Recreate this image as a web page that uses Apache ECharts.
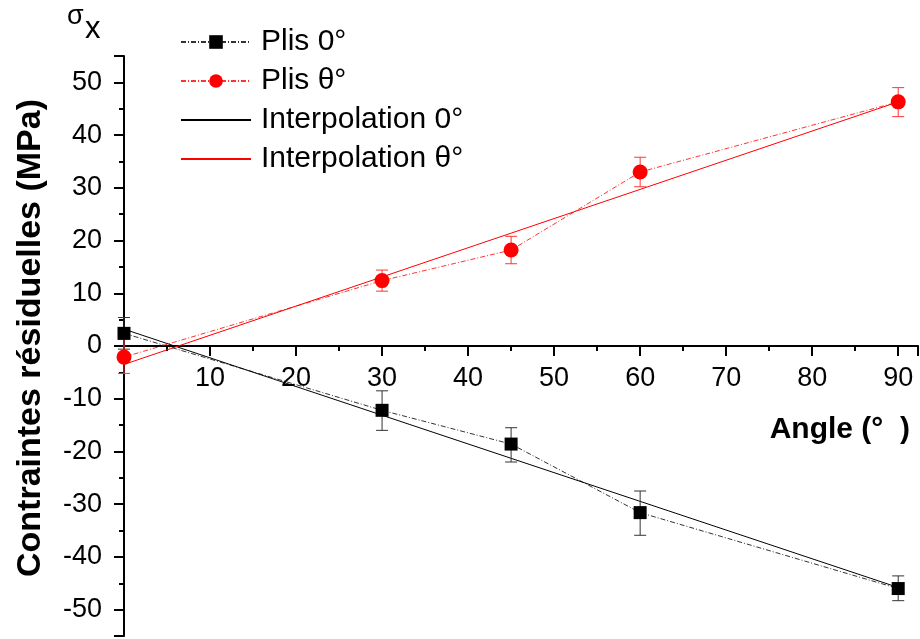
<!DOCTYPE html>
<html>
<head>
<meta charset="utf-8">
<script src="https://cdn.jsdelivr.net/npm/echarts@6/dist/echarts.min.js"></script>
<style>html,body{margin:0;padding:0;background:#fff}#c{width:920px;height:639px}</style>
</head>
<body>
<div id="c"></div>
<script>
// Data
const angles = [0, 30, 45, 60, 90];
const plis0 = [2.4, -12.2, -18.6, -31.6, -46.0];
const plis0Low = [-0.6, -16.0, -22.0, -35.9, -48.3];
const plis0High = [5.4, -8.5, -15.5, -27.5, -43.6];
const plisT = [-2.1, 12.4, 18.2, 33.0, 46.3];
const plisTLow = [-5.2, 10.4, 15.6, 30.2, 43.5];
const plisTHigh = [1.3, 14.4, 20.8, 35.8, 49.0];
const interpX = [0, 90];
const interp0 = [3.2, -45.8];
const interpT = [-3.5, 46.3];
const xTicks = [10, 20, 30, 40, 50, 60, 70, 80, 90];

const FONT = 'Liberation Sans, Arial, sans-serif';
const pairs = (xs, ys) => xs.map((x, i) => [x, ys[i]]);
const bars = (xs, lo, hi) => xs.map((x, i) => [x, lo[i], hi[i]]);

function errRender(color) {
  return function (params, api) {
    const x = api.value(0);
    const p1 = api.coord([x, api.value(1)]);
    const p2 = api.coord([x, api.value(2)]);
    const w = 6;
    const st = { stroke: color, lineWidth: 1 };
    return {
      type: 'group',
      children: [
        { type: 'line', shape: { x1: p1[0], y1: p1[1], x2: p2[0], y2: p2[1] }, style: st },
        { type: 'line', shape: { x1: p1[0] - w, y1: p1[1], x2: p1[0] + w, y2: p1[1] }, style: st },
        { type: 'line', shape: { x1: p2[0] - w, y1: p2[1], x2: p2[0] + w, y2: p2[1] }, style: st }
      ]
    };
  };
}

const chart = echarts.init(document.getElementById('c'), null, { renderer: 'canvas' });
const option = {
  animation: false,
  backgroundColor: '#fff',
  textStyle: { fontFamily: FONT },
  grid: { left: 124, right: 2, top: 56, bottom: 3, containLabel: false, outerBoundsMode: 'none' },
  legend: {
    orient: 'vertical',
    left: 175,
    top: 22,
    itemWidth: 70,
    itemHeight: 17,
    itemGap: 9,
    textStyle: { fontFamily: FONT, fontSize: 30, color: '#000', lineHeight: 30, padding: [0, 0, 0, 5] },
    data: [
      'Plis 0°',
      'Plis θ°',
      { name: 'Interpolation 0°', itemStyle: { opacity: 0 } },
      { name: 'Interpolation θ°', itemStyle: { opacity: 0 } }
    ]
  },
  graphic: [
    { type: 'text', left: 67, top: 3, style: { text: 'σ', fontFamily: FONT, fontSize: 27, fill: '#000' } },
    { type: 'text', left: 85, top: 14, style: { text: 'x', fontFamily: FONT, fontSize: 31, fill: '#000' } },
    { type: 'text', right: 10, top: 415, style: { text: 'Angle (°  )', fontFamily: FONT, fontSize: 30, fontWeight: 'bold', fill: '#000' } }
  ],
  xAxis: {
    type: 'value',
    position: 'bottom',
    offset: -290,
    min: 0,
    max: 92.3,
    interval: 10,
    axisLine: { onZero: false, lineStyle: { color: '#000', width: 2 } },
    axisTick: { show: true, length: 10, lineStyle: { color: '#000', width: 2 } },
    minorTick: { show: true, splitNumber: 2, length: 5, lineStyle: { color: '#000', width: 2 } },
    splitLine: { show: false },
    axisLabel: {
      fontFamily: FONT, fontSize: 27, color: '#000', margin: 19,
      showMinLabel: false, showMaxLabel: false,
      formatter: v => (xTicks.indexOf(v) >= 0 ? String(v) : '')
    }
  },
  yAxis: {
    type: 'value',
    min: -55,
    max: 55,
    splitNumber: 11,
    name: 'Contraintes résiduelles (MPa)',
    nameLocation: 'middle',
    nameRotate: 90,
    nameGap: 76,
    nameTextStyle: { fontFamily: FONT, fontSize: 34, fontWeight: 'bold', color: '#000', padding: [0, 0, 0, 16] },
    axisLine: { onZero: false, lineStyle: { color: '#000', width: 2 } },
    axisTick: { show: true, length: 10, lineStyle: { color: '#000', width: 2 } },
    minorTick: { show: true, splitNumber: 2, length: 5, lineStyle: { color: '#000', width: 2 } },
    splitLine: { show: false },
    axisLabel: {
      fontFamily: FONT, fontSize: 27, color: '#000', margin: 22,
      showMinLabel: false, showMaxLabel: false
    }
  },
  series: [
    {
      name: 'Interpolation 0°', type: 'line', data: pairs(interpX, interp0),
      symbol: 'none', lineStyle: { color: '#000', width: 1 }, itemStyle: { color: '#000' }, z: 2
    },
    {
      name: 'Interpolation θ°', type: 'line', data: pairs(interpX, interpT),
      symbol: 'none', lineStyle: { color: '#ff0000', width: 1 }, itemStyle: { color: '#ff0000' }, z: 2
    },
    {
      name: 'err0', type: 'custom', data: bars(angles, plis0Low, plis0High),
      renderItem: errRender('#333'), z: 3, silent: true
    },
    {
      name: 'errT', type: 'custom', data: bars(angles, plisTLow, plisTHigh),
      renderItem: errRender('#ff3333'), z: 3, silent: true
    },
    {
      name: 'Plis 0°', type: 'line', data: pairs(angles, plis0),
      symbol: 'rect', symbolSize: 13, showAllSymbol: true,
      lineStyle: { color: '#000', width: 1, type: [5, 2, 1, 2], opacity: 0.8 },
      itemStyle: { color: '#000' }, z: 4
    },
    {
      name: 'Plis θ°', type: 'line', data: pairs(angles, plisT),
      symbol: 'circle', symbolSize: 15, showAllSymbol: true,
      lineStyle: { color: '#ff0000', width: 1, type: [5, 2, 1, 2], opacity: 0.8 },
      itemStyle: { color: '#ff0000' }, z: 4
    }
  ]
};
chart.setOption(option);
</script>
</body>
</html>
